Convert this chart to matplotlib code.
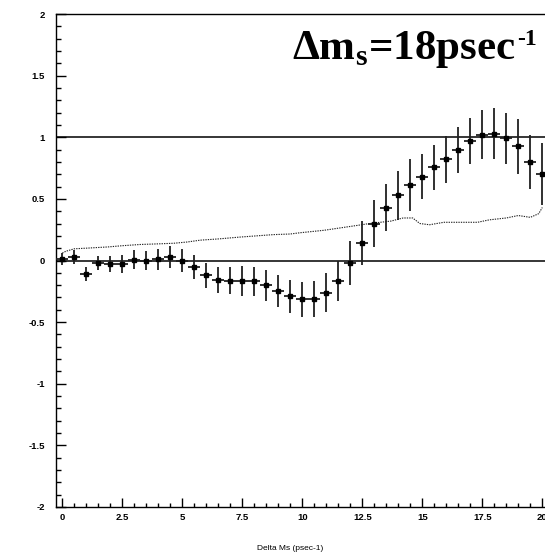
import numpy as np
import matplotlib
matplotlib.use("Agg")
import matplotlib.pyplot as plt
from matplotlib.ticker import MultipleLocator

# Data: asymmetry amplitude vs Delta Ms
x = [0.0, 0.5, 1.0, 1.5, 2.0, 2.5, 3.0, 3.5, 4.0, 4.5,
     5.0, 5.5, 6.0, 6.5, 7.0, 7.5, 8.0, 8.5, 9.0, 9.5,
     10.0, 10.5, 11.0, 11.5, 12.0, 12.5, 13.0, 13.5, 14.0, 14.5,
     15.0, 15.5, 16.0, 16.5, 17.0, 17.5, 18.0, 18.5, 19.0, 19.5, 20.0]
amp = [0.01, 0.03, -0.11, -0.02, -0.03, -0.03, 0.005, 0.0, 0.01, 0.03,
       0.0, -0.055, -0.12, -0.16, -0.165, -0.165, -0.17, -0.2, -0.245, -0.29,
       -0.315, -0.31, -0.26, -0.165, -0.02, 0.14, 0.30, 0.43, 0.53, 0.615,
       0.68, 0.756, 0.82, 0.897, 0.97, 1.02, 1.03, 0.99, 0.925, 0.80, 0.70]
err = [0.05, 0.055, 0.06, 0.06, 0.065, 0.075, 0.077, 0.08, 0.087, 0.088,
       0.09, 0.096, 0.10, 0.107, 0.11, 0.12, 0.12, 0.125, 0.13, 0.135,
       0.14, 0.145, 0.155, 0.16, 0.175, 0.18, 0.19, 0.19, 0.20, 0.21,
       0.185, 0.18, 0.19, 0.19, 0.19, 0.20, 0.21, 0.21, 0.22, 0.22, 0.25]

# Sensitivity curve (dotted)
sens_x = [0.0, 0.15, 0.5, 1.0, 1.9, 2.5, 3.25, 4.0, 4.65, 5.2, 5.75, 6.5,
          7.4, 8.1, 8.8, 9.5, 9.9, 10.9, 11.6, 12.3, 12.8, 13.7, 14.2, 14.6,
          14.9, 15.3, 15.9, 16.6, 17.3, 17.8, 18.5, 19.0, 19.5, 19.85, 20.0]
sens_y = [0.06, 0.075, 0.095, 0.10, 0.11, 0.12, 0.13, 0.135, 0.14, 0.15, 0.165, 0.175,
          0.19, 0.20, 0.21, 0.215, 0.225, 0.245, 0.265, 0.285, 0.30, 0.32, 0.345, 0.345,
          0.30, 0.29, 0.31, 0.31, 0.31, 0.33, 0.345, 0.365, 0.35, 0.38, 0.43]

xticks = [0, 2.5, 5, 7.5, 10, 12.5, 15, 17.5, 20]
xticklabels = ["0", "2.5", "5", "7.5", "10", "12.5", "15", "17.5", "20"]
yticks = [-2, -1.5, -1, -0.5, 0, 0.5, 1, 1.5, 2]
yticklabels = ["-2", "-1.5", "-1", "-0.5", "0", "0.5", "1", "1.5", "2"]

W, H = 545, 556
fig = plt.figure(figsize=(W / 100, H / 100), dpi=100)
fig.patch.set_facecolor("white")

left_px, x0_px, ppu = 56, 62.3, 24.0
xmin = (left_px - x0_px) / ppu
xmax = 20.5
right_px = x0_px + xmax * ppu
top_px, bot_px = 14, 507
ax = fig.add_axes([left_px / W, (H - bot_px) / H,
                   (right_px - left_px) / W, (bot_px - top_px) / H])
ax.set_xlim(xmin, xmax)
ax.set_ylim(-2, 2)

ax.spines["right"].set_visible(False)
for s in ["left", "bottom", "top"]:
    ax.spines[s].set_linewidth(1.0)
    ax.spines[s].set_color("black")

ax.axhline(0, color="black", lw=1.1, zorder=2)
ax.axhline(1, color="black", lw=1.1, zorder=2)

ax.plot(sens_x, sens_y, color="#222222", lw=0.8, linestyle=(0, (1.2, 1.0)), zorder=3)

ax.errorbar(x, amp, yerr=err, xerr=0.25, fmt="s", color="black",
            ecolor="#202020", elinewidth=1.3, markersize=3.2, capsize=0, zorder=4)

ax.set_xticks(xticks)
ax.set_xticklabels(xticklabels)
ax.set_yticks(yticks)
ax.set_yticklabels(yticklabels)
ax.xaxis.set_minor_locator(MultipleLocator(0.5))
ax.yaxis.set_minor_locator(MultipleLocator(0.1))
ax.tick_params(axis="both", which="both", direction="in", top=False, right=False,
               width=1.0, color="black")
ax.tick_params(axis="y", which="major", length=7.2, pad=8)
ax.tick_params(axis="y", which="minor", length=3.6)
ax.tick_params(axis="x", which="major", length=6.5, pad=4)
ax.tick_params(axis="x", which="minor", length=3.0)
for lab in ax.get_xticklabels() + ax.get_yticklabels():
    lab.set_fontfamily("Liberation Sans")
    lab.set_fontweight("bold")
    lab.set_fontsize(6.8)

fig.text(290 / W, (H - 548) / H, "Delta Ms (psec-1)", ha="center", va="center",
         fontsize=6, family="Liberation Sans")

# Title: main part plus a hyphen-style superscript "-1"
renderer = fig.canvas.get_renderer()
sup = fig.text(537 / W, (H - 45) / H, "-1", ha="right", va="baseline",
               fontsize=17, family="Liberation Serif", fontweight="bold")
sup_bb = sup.get_window_extent(renderer=renderer)
main_right = sup_bb.x0 - 2
fig.text(main_right / W, (H - 59) / H, r"Δm$_\mathregular{s}$=18psec",
         ha="right", va="baseline", fontsize=31, family="Liberation Serif",
         fontweight="bold")

fig.savefig("out.png", dpi=100, facecolor="white")
